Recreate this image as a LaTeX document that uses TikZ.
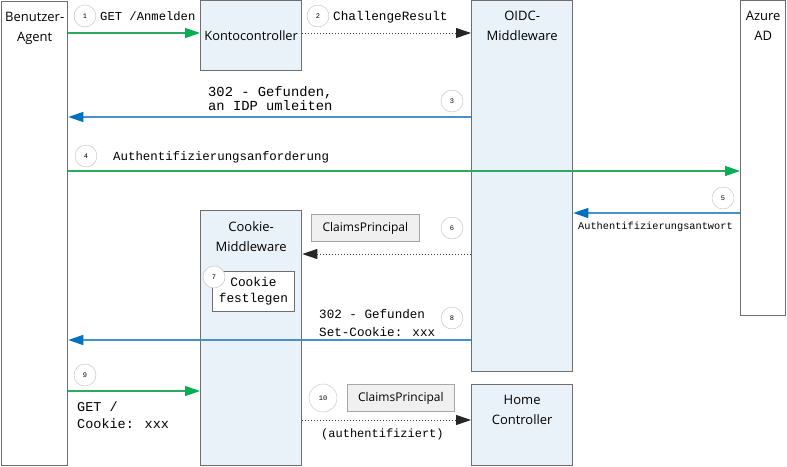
\documentclass[tikz,border=0pt]{standalone}
\usepackage{fontspec}
\usepackage{tikz}
\usetikzlibrary{arrows.meta,positioning}
\newfontfamily\uifont{Open Sans}
\newfontfamily\codefont{Liberation Mono}
\definecolor{lanefill}{HTML}{E8F2F8}
\definecolor{laneline}{HTML}{6E6E6E}
\definecolor{okgreen}{HTML}{2EAA5E}
\definecolor{headgreen}{HTML}{00B050}
\definecolor{redirblue}{HTML}{4A90C8}
\definecolor{headblue}{HTML}{0070C0}
\definecolor{tokfill}{HTML}{F0F0F0}
\definecolor{tokline}{HTML}{A6A6A6}
\tikzset{
  basic/.style  = {draw=laneline, line width=1.3pt, rectangle, inner sep=0pt, anchor=north west},
  lane/.style   = {basic, fill=lanefill, font=\uifont\fontsize{12.8}{20}\selectfont},
  actor/.style  = {basic, fill=white},
  title/.style  = {font=\uifont\fontsize{13}{20}\selectfont, align=center, inner sep=0pt, anchor=north, yshift=-11pt},
  token/.style  = {draw=tokline, fill=tokfill, line width=0.8pt, inner sep=0pt, anchor=north west,
                   font=\uifont\fontsize{12}{14}\selectfont},
  num/.style    = {circle, draw=gray!50, fill=white, minimum size=22pt, inner sep=0pt,
                   font=\codefont\fontsize{7}{8}\selectfont},
  code/.style n args = {2}{font=\codefont\fontsize{#1}{#2}\selectfont},
  msg/.style    = {inner sep=0pt, anchor=base west, align=left},
  go/.style     = {draw=okgreen, line width=1.3pt, -{Triangle[length=15pt,width=10pt,color=headgreen]}},
  back/.style   = {draw=redirblue, line width=1.3pt, -{Triangle[length=15pt,width=10pt,color=headblue]}},
  pass/.style   = {draw=black!75, line width=1pt, dash pattern=on 1pt off 2pt,
                   -{Triangle[length=15pt,width=10pt,color=black!85]}}
}

\begin{document}
\begin{tikzpicture}[x=1pt, y=-1pt]
\useasboundingbox (0,0) rectangle (787,466);

% Lebenslinien
\node[actor, minimum width=66pt, minimum height=464pt,
  label={[title]north:{Benutzer-\\Agent}}] (agent) at (1,1) {};
\node[lane, minimum width=101pt, minimum height=70pt] (kc) at (200,0) {Kontocontroller};
\node[lane, minimum width=101pt, minimum height=371pt,
  label={[title]north:{OIDC-\\Middleware}}] (oidc) at (471,0) {};
\node[actor, minimum width=45pt, minimum height=315pt,
  label={[title]north:{Azure\\AD}}] (azure) at (740,0) {};
\node[lane, minimum width=101pt, minimum height=255pt,
  label={[title]north:{Cookie-\\Middleware}}] (ckmw) at (200,210) {};
\node[lane, minimum width=101pt, minimum height=81pt,
  label={[title]north:{Home\\Controller}}] (home) at (471,384) {};

% innere Box und Token
\node[basic, fill=white, line width=0.8pt, minimum width=82pt, minimum height=40pt,
  align=center, code={12.8}{16}] (setck) at (212,271) {Cookie\\festlegen};
\node[token, minimum width=108pt, minimum height=27pt] (cp1) at (311,214) {ClaimsPrincipal};
\node[token, minimum width=107pt, minimum height=27pt] (cp2) at (347,384) {ClaimsPrincipal};

% Nummern
\foreach \n/\x/\y in {1/85/16, 2/318/16, 3/452/101, 4/86/156, 5/723/198,
                      6/452/228, 7/214/277, 8/452/318, 9/85/375}
  \node[num] (n\n) at (\x,\y) {\n};
\node[num, minimum size=28pt] (n10) at (323,398) {10};

% Nachrichten
\node[msg, code={12.2}{14}] (t1) at (100,20.5) {GET /Anmelden};
\node[msg, code={12.7}{14}] (t2) at (333,20.5) {ChallengeResult};
\node[msg, anchor=north west, code={13.8}{13.5}] (t3) at (208,86.5) {302 - Gefunden,\\an IDP umleiten};
\node[msg, code={12.4}{14}] (t4) at (113,160) {Authentifizierungsanforderung};
\node[msg, code={10.3}{12}] (t5) at (578,229.5) {Authentifizierungsantwort};
\node[msg, anchor=north west, code={12.6}{18}] (t8) at (319,309.5) {302 - Gefunden\\Set-Cookie: xxx};
\node[msg, anchor=north west, code={13.5}{17}] (t9) at (77,401.5) {GET /\\Cookie: xxx};
\node[msg, code={12}{14}] (t10) at (321,437) {(authentifiziert)};

\draw[go]   (agent.east |- 0,33)  -- (kc.west |- 0,33);
\draw[pass] (kc.east |- 0,33)     -- (oidc.west |- 0,33);
\draw[back] (oidc.west |- 0,117)  -- (agent.east |- 0,117);
\draw[go]   (agent.east |- 0,171) -- (azure.west |- 0,171);
\draw[back] (azure.west |- 0,213) -- (oidc.east |- 0,213);
\draw[pass] (oidc.west |- 0,254)  -- (ckmw.east |- 0,254);
\draw[back] (oidc.west |- 0,340)  -- (agent.east |- 0,340);
\draw[go]   (agent.east |- 0,391) -- (ckmw.west |- 0,391);
\draw[pass] (ckmw.east |- 0,420)  -- (home.west |- 0,420);
\end{tikzpicture}
\end{document}
